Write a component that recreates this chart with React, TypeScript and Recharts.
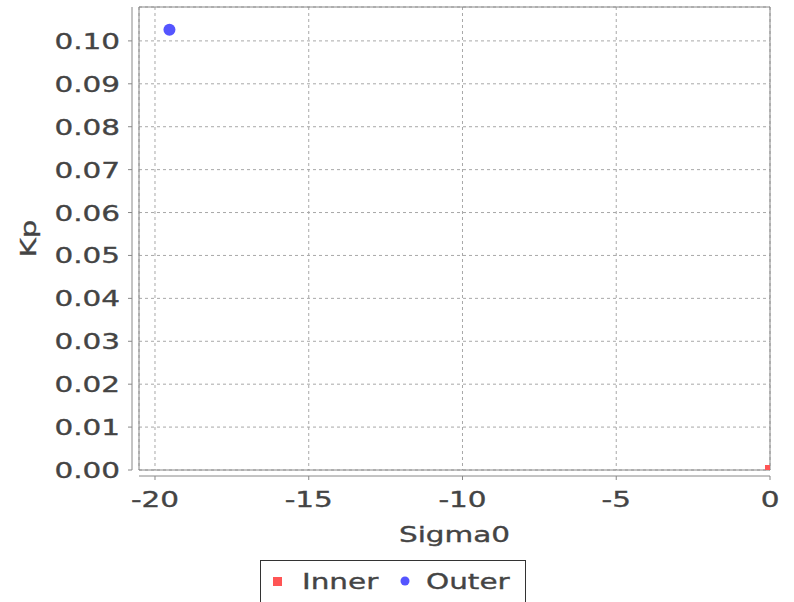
import React from 'react';
import { CartesianGrid, ReferenceArea, Scatter, ScatterChart, XAxis, YAxis } from 'recharts';

// values
const innerPoints = [{ sigma0: 0, kp: 0 }];
const outerPoints = [{ sigma0: -19.53, kp: 0.1026 }];
const xTicks = [-20, -15, -10, -5, 0];
const yTicks = [0, 0.01, 0.02, 0.03, 0.04, 0.05, 0.06, 0.07, 0.08, 0.09, 0.1];
const xDomain = [-20.52, 0];
const yDomain = [0, 0.1079];
const seriesNames = ['Inner', 'Outer'];
const seriesColors = ['#ff5555', '#5555ff'];

const FONT = '"DejaVu Sans", sans-serif';
const FS = 22;
const SX = 1.34;
const TEXT = '#444444';
const AXIS = '#888888';

const Stretched = ({ x, y, anchor = 'middle', rotate = 0, children }: any) => (
  <text
    transform={`translate(${x},${y}) rotate(${rotate}) scale(${SX},1)`}
    textAnchor={anchor}
    fontFamily={FONT}
    fontSize={FS}
    fill={TEXT}
    stroke={TEXT}
    strokeWidth={0.35}
  >
    {children}
  </text>
);

const YTick = ({ x, y, payload }: any) => (
  <g>
    <line x1={x - 11} x2={x - 7} y1={y} y2={y} stroke={AXIS} />
    <Stretched x={x - 19} y={y + 8} anchor="end">
      {Number(payload.value).toFixed(2)}
    </Stretched>
  </g>
);

const XTick = ({ x, y, payload }: any) => (
  <g>
    <line x1={x} x2={x} y1={y + 6} y2={y + 10} stroke={AXIS} />
    <Stretched x={x} y={y + 37}>
      {payload.value}
    </Stretched>
  </g>
);

const Square = ({ cx, cy }: any) => <rect x={cx - 5} y={cy - 5} width={10} height={10} fill={seriesColors[0]} />;
const Dot = ({ cx, cy }: any) => <circle cx={cx} cy={cy} r={6} fill={seriesColors[1]} />;

const Legend = () => (
  <svg width={266} height={42} style={{ position: 'absolute', left: 260, top: 560 }}>
    <rect x={0.5} y={0.5} width={265} height={44} fill="white" stroke="#333" />
    <rect x={13} y={17} width={9} height={9} fill={seriesColors[0]} />
    <Stretched x={42} y={29} anchor="start">{seriesNames[0]}</Stretched>
    <circle cx={145} cy={21} r={4.5} fill={seriesColors[1]} />
    <Stretched x={166} y={29} anchor="start">{seriesNames[1]}</Stretched>
  </svg>
);

export default function App() {
  return (
    <div style={{ position: 'absolute', left: 0, top: 0, width: 794, height: 602, background: 'white', overflow: 'hidden' }}>
      <ScatterChart width={794} height={602} margin={{ top: 7, right: 24, bottom: 0, left: 0 }}>
        <CartesianGrid stroke="#a8a8a8" strokeDasharray="3 3" />
        <XAxis
          type="number"
          dataKey="sigma0"
          domain={xDomain}
          ticks={xTicks}
          allowDataOverflow
          height={132}
          tickSize={0}
          tickMargin={0}
          tickLine={false}
          tick={<XTick />}
          axisLine={{ stroke: AXIS, transform: 'translate(0 6)' }}
          label={{
            content: ({ viewBox }: any) => (
              <Stretched x={viewBox.x + viewBox.width / 2} y={viewBox.y + 72}>Sigma0</Stretched>
            ),
          }}
        />
        <YAxis
          type="number"
          dataKey="kp"
          domain={yDomain}
          ticks={yTicks}
          allowDataOverflow
          width={139}
          tickSize={0}
          tickMargin={0}
          tickLine={false}
          tick={<YTick />}
          axisLine={{ stroke: AXIS, transform: 'translate(-7 0)' }}
          label={{
            content: ({ viewBox }: any) => (
              <Stretched x={viewBox.x + 36} y={viewBox.y + viewBox.height / 2} rotate={-90}>Kp</Stretched>
            ),
          }}
        />
        <ReferenceArea
          x1={xDomain[0]}
          x2={xDomain[1]}
          y1={yDomain[0]}
          y2={yDomain[1]}
          fill="none"
          stroke={AXIS}
          ifOverflow="visible"
        />
        <Scatter name={seriesNames[0]} data={innerPoints} shape={<Square />} isAnimationActive={false} />
        <Scatter name={seriesNames[1]} data={outerPoints} shape={<Dot />} isAnimationActive={false} />
      </ScatterChart>
      <Legend />
    </div>
  );
}
